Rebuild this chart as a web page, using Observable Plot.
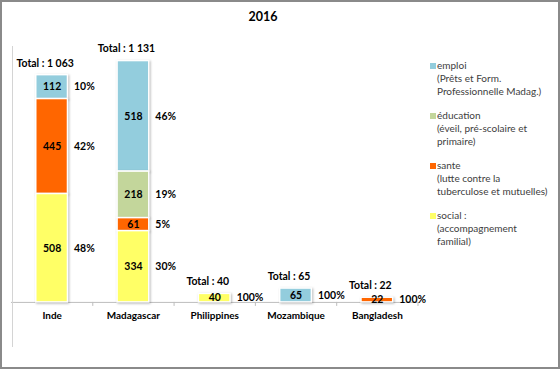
<!DOCTYPE html>
<html><head><meta charset="utf-8">
<script src="https://cdn.jsdelivr.net/npm/d3@7"></script>
<script src="https://cdn.jsdelivr.net/npm/@observablehq/plot@0.6"></script>
<style>
body{margin:0;background:#fff;}
#wrap{position:relative;width:560px;height:369px;box-sizing:border-box;border:2px solid #8a8a8a;overflow:hidden;font-family:Lato,"Open Sans",sans-serif;}
#chart{position:absolute;left:-2px;top:-2px;}
#title{position:absolute;left:0;width:522px;top:7px;text-align:center;font-weight:bold;font-size:12.5px;color:#000;}
#vline{position:absolute;left:10px;top:44px;width:0;height:301px;border-left:1.5px solid #d4d4d4;}
#legend{position:absolute;left:428px;top:57px;font-size:10px;line-height:13px;color:#404040;}
.item{position:relative;padding-left:7px;height:50px;}
.item .sw{position:absolute;left:0;top:4px;width:6px;height:6px;}
g[aria-label="bar"] rect{filter:drop-shadow(1.5px 1.5px 1px rgba(0,0,0,0.28));}
</style></head>
<body>
<div id="wrap">
  <div id="chart"></div>
  <div id="vline"></div>
  <div id="title">2016</div>
  <div id="legend"></div>
</div>
<script>
// ---- data ----
const categories = ["Inde", "Madagascar", "Philippines", "Mozambique", "Bangladesh"];
const seriesNames = ["emploi", "éducation", "sante", "social"];
const seriesColors = ["#93CDDD", "#C3D69B", "#FF6600", "#FFFF66"];
const legendLines = [
  ["emploi", "(Prêts et Form.", "Professionnelle Madag.)"],
  ["éducation", "(éveil, pré-scolaire et", "primaire)"],
  ["sante", "(lutte contre la", "tuberculose et mutuelles)"],
  ["social :", "(accompagnement", "familial)"]
];
const emploi    = [112, 518, 0, 65, 0];
const education = [0, 218, 0, 0, 0];
const sante     = [445, 61, 0, 0, 22];
const social    = [508, 334, 40, 0, 0];
const emploiPct    = ["10%", "46%", "", "100%", ""];
const educationPct = ["", "19%", "", "", ""];
const santePct     = ["42%", "5%", "", "", "100%"];
const socialPct    = ["48%", "30%", "100%", "", ""];
const totals = [1063, 1131, 40, 65, 22];

// ---- build table ----
const seriesValues = [emploi, education, sante, social];
const seriesPct = [emploiPct, educationPct, santePct, socialPct];
const rows = [];
seriesNames.forEach((s, si) => {
  categories.forEach((c, ci) => {
    const v = seriesValues[si][ci];
    if (v > 0) rows.push({country: c, series: s, value: v, pct: seriesPct[si][ci]});
  });
});
const totalRows = categories.map((c, i) => ({country: c, total: totals[i]}));
const stackOrder = ["social", "sante", "éducation", "emploi"];
const loc = d3.formatLocale({decimal: ",", thousands: " ", grouping: [3], currency: ["", ""]});
const fmt = loc.format(",d");

const W = 560, H = 369;
const mL = 11, mR = 141, mT = 46, mB = 66;
const step = (W - mL - mR) / categories.length;

const chart = Plot.plot({
  width: W, height: H,
  marginLeft: mL, marginRight: mR, marginTop: mT, marginBottom: mB,
  style: {fontFamily: "Lato, 'Open Sans', sans-serif", background: "transparent"},
  x: {domain: categories, paddingInner: 0.61, paddingOuter: 0.305, round: false, axis: null},
  y: {domain: [0, 1200], axis: null},
  color: {domain: seriesNames, range: seriesColors},
  marks: [
    Plot.ruleY([0], {stroke: "#bdbdbd", strokeWidth: 1}),
    Plot.ruleX(categories, {x: d => d, dx: step / 2, y1: 0, y2: 0, insetBottom: -4, stroke: "#bdbdbd"}),
    Plot.barY(rows, Plot.stackY({x: "country", y: "value", fill: "series", order: stackOrder, stroke: "white", strokeWidth: 1.5})),
    Plot.text(rows, Plot.stackY({x: "country", y: "value", z: "series", order: stackOrder, text: d => String(d.value),
      fontWeight: "bold", fontSize: 10.5, fill: "#000"})),
    Plot.text(rows, Plot.stackY({x: "country", y: "value", z: "series", order: stackOrder, text: "pct",
      dx: 22, textAnchor: "start", fontWeight: "bold", fontSize: 10.5, fill: "#000"})),
    Plot.text(totalRows, {x: "country", y: "total", text: d => "Total : " + fmt(d.total), dy: -12, dx: -7,
      fontWeight: "bold", fontSize: 10.5, fill: "#000"}),
    Plot.axisX({domain: categories, tickSize: 0, tickPadding: 10, fontWeight: "bold", fontSize: 10, color: "#000", label: null})
  ]
});
document.getElementById("chart").appendChild(chart);

// legend
const lg = document.getElementById("legend");
seriesNames.forEach((s, i) => {
  const it = document.createElement("div");
  it.className = "item";
  const sw = document.createElement("span");
  sw.className = "sw";
  sw.style.background = seriesColors[i];
  it.appendChild(sw);
  legendLines[i].forEach(t => {
    const l = document.createElement("div");
    l.textContent = t;
    it.appendChild(l);
  });
  lg.appendChild(it);
});
</script>
</body></html>
